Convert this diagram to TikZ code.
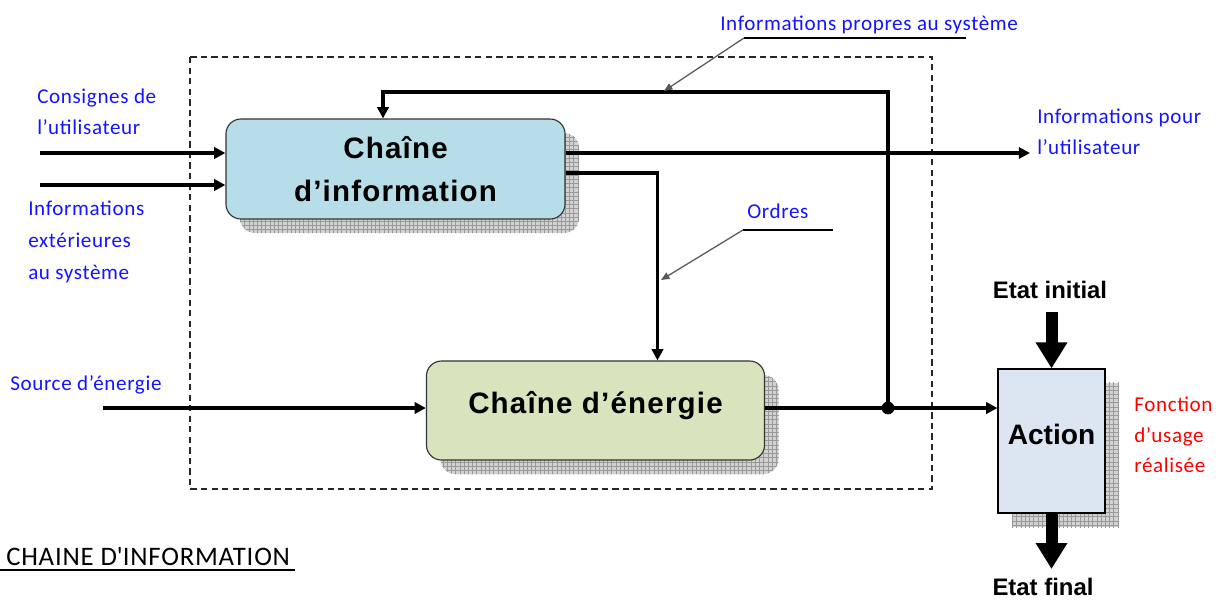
\documentclass[tikz,border=0pt]{standalone}
\usepackage{fontspec}
\setmainfont[LetterSpace=3]{Carlito}
\newfontfamily\boxfont[LetterSpace=4]{Liberation Sans}
\newfontfamily\etatfont{Liberation Sans}
\usepackage{tikz}
\usetikzlibrary{arrows.meta,shadows,patterns,calc,positioning}
\definecolor{infoblue}{RGB}{183,222,232}
\definecolor{energygreen}{RGB}{215,228,189}
\definecolor{actionblue}{RGB}{220,230,242}
\definecolor{labelblue}{RGB}{20,20,255}
\tikzset{
    chainbox/.style={
        draw=black!80, line width=0.8pt, rounded corners=0.375cm, inner sep=0pt,
        drop shadow={shadow xshift=0.35cm, shadow yshift=-0.35cm, fill=gray!35, opacity=1},
        drop shadow={shadow xshift=0.35cm, shadow yshift=-0.35cm, pattern=grid, pattern color=gray!80, opacity=1},
        font=\boxfont\bfseries\fontsize{21}{30.5}\selectfont, align=center
    },
    % boite rectangulaire de l'action
    actionbox/.style={
        chainbox, sharp corners, draw=black,
        font=\etatfont\bfseries\fontsize{20}{24}\selectfont
    },
    bluelabel/.style={
        labelblue, inner sep=0pt, align=left,
        font=\fontsize{15}{22}\selectfont
    },
    etatlabel/.style={inner sep=0pt, font=\etatfont\bfseries\fontsize{17}{20}\selectfont},
    flowarrow/.style={
        line width=2.4pt, black,
        -{Triangle[length=8pt, width=8pt]}
    },
    bigarrow/.style={
        line width=0.3cm, black,
        -{Triangle[length=0.65cm, width=0.75cm]}
    },
    leaderline/.style={line width=0.9pt, black},
    leaderarrow/.style={
        line width=0.9pt, black!65,
        -{Triangle[length=6pt, width=5pt]}
    },
    systemframe/.style={line width=0.9pt, black!85, dash pattern=on 4.5pt off 3pt}
}

\begin{document}
\begin{tikzpicture}[x=0.025cm, y=-0.025cm]
	\useasboundingbox (0,0) rectangle (1227,601);

	\draw[systemframe] (190,57) rectangle (932,489);

	\node[chainbox, fill=infoblue, minimum width=8.475cm, minimum height=2.5cm] (info) at (395.5,169) {Chaîne\\d’information};
	\node[chainbox, fill=energygreen, minimum width=8.45cm, minimum height=2.475cm, text depth=12pt] (energy) at (595.5,410.5) {Chaîne d’énergie};
	\node[actionbox, fill=actionblue, minimum width=2.675cm, minimum height=3.6cm, text depth=10pt] (action) at (1051.5,441) {Action};

	% textes
	\node[bluelabel, anchor=west] (consignes) at (37,112) {Consignes de\\l'utilisateur};
	\node[bluelabel, anchor=west, font=\fontsize{15}{23}\selectfont] (exterieures) at (28,242) {Informations\\extérieures\\au système};
	\node[bluelabel, anchor=base west] (source) at (10,390) {Source d'énergie};
	\node[bluelabel, anchor=base west] (propres) at (720,30) {Informations propres au système};
	\node[bluelabel, anchor=base west] (ordres) at (747,218) {Ordres};
	\node[bluelabel, anchor=west] (pourutil) at (1037,132) {Informations pour\\l'utilisateur};
	\node[bluelabel, red, anchor=west, font=\fontsize{15}{21.7}\selectfont] (fonction) at (1134,435) {Fonction\\d'usage\\réalisée};
	\node[etatlabel, anchor=base] (etatinit) at (1050,298) {Etat initial};
	\node[etatlabel, anchor=base] (etatfinal) at (1043,595) {Etat final};
	\node[inner sep=0pt, anchor=base west, font=\fontsize{19}{22}\selectfont] (titre) at (6,565) {CHAINE D\textquotesingle INFORMATION};
	\draw[line width=1.4pt] (0,570) -- (295,570);

	% liaisons
	\coordinate (consin) at (40,153);
	\coordinate (extin) at (40,185);
	\coordinate (srcin) at (103,408);
	\coordinate (junction) at (888,408);
	\coordinate (fbtop) at (888,92);
	\coordinate (fbin) at ($(info.north)+(-12.5,0)$);
	\coordinate (userout) at (1030,153);
	\coordinate (ordresout) at ($(info.east)+(0,4)$);
	\coordinate (ordresin) at ($(energy.north)+(62,0)$);
	\coordinate (initstart) at (1051.5,312);
	\coordinate (finalend) at (1051.5,569);

	\draw[flowarrow] (consin) -- (consin -| info.west);
	\draw[flowarrow] (extin) -- (extin -| info.west);
	\draw[flowarrow] (srcin) -- (srcin -| energy.west);
	\draw[flowarrow] (info.east |- userout) -- (userout);
	\draw[flowarrow] (ordresout) -| (ordresin);
	\draw[flowarrow] (energy.east |- junction) -- (junction -| action.west);
	\draw[flowarrow] (junction) -- (fbtop) -- (fbtop -| fbin) -- (fbin);
	\fill (junction) circle (0.16cm);

	\draw[bigarrow] (initstart) -- (action.north);
	\draw[bigarrow] (action.south) -- (finalend);

	% lignes de rappel
	\coordinate (propresend) at (966,38);
	\coordinate (propresknee) at (744,38);
	\coordinate (propreslink) at (664,91);
	\coordinate (ordresend) at (833,230);
	\coordinate (ordresknee) at (743,230);
	\coordinate (ordreslink) at (661,280);
	\draw[leaderline] (propresend) -- (propresknee);
	\draw[leaderarrow] (propresknee) -- (propreslink);
	\draw[leaderline] (ordresend) -- (ordresknee);
	\draw[leaderarrow] (ordresknee) -- (ordreslink);
\end{tikzpicture}
\end{document}
